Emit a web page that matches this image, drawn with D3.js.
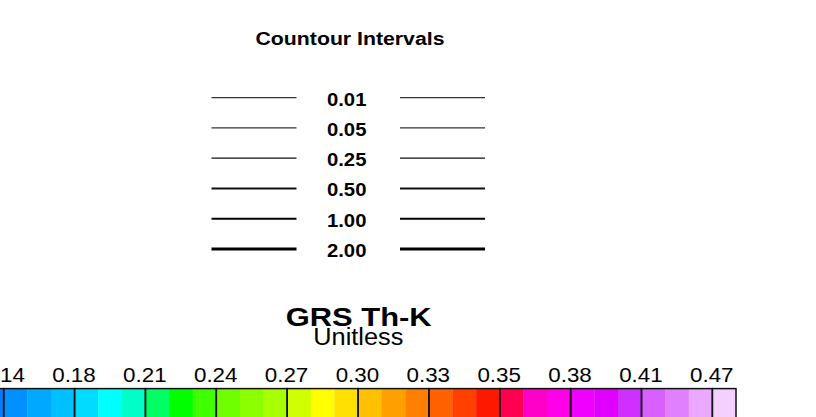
<!DOCTYPE html>
<html>
<head>
<meta charset="utf-8">
<script src="https://cdn.jsdelivr.net/npm/d3@7"></script>
<style>
  html, body { margin: 0; padding: 0; background: #fff; }
  svg { display: block; font-family: "Liberation Sans", Arial, Helvetica, sans-serif; }
</style>
</head>
<body>
<svg id="chart" width="816" height="417"></svg>
<script>
// ---- data ----
const legendTitle = "Countour Intervals";
const contourLevels = ["0.01", "0.05", "0.25", "0.50", "1.00", "2.00"];
const chartTitle = "GRS Th-K";
const chartUnits = "Unitless";
const tickLabels = ["0.14", "0.18", "0.21", "0.24", "0.27", "0.30", "0.33", "0.35", "0.38", "0.41", "0.47"];
const cellColors = [
  "#007cff", // partial cell before 0.14
  "#0090ff", "#00a8ff", "#00c0ff",
  "#00dcff", "#00ffff", "#00ffc8",
  "#00ff64", "#00ff00", "#40ff00",
  "#70ff00", "#8cff00", "#a8ff00",
  "#d0ff00", "#ffff00", "#ffe000",
  "#ffc000", "#ffa000", "#ff8000",
  "#ff6000", "#ff4000", "#ff1800",
  "#ff0050", "#ff00c8", "#ff00e8",
  "#f000ff", "#e000ff", "#d030ff",
  "#d860ff", "#e080ff", "#eaa8ff",
  "#f4d0ff"
];
const cellsPerTick = 3;

// ---- drawing ----
const svg = d3.select("#chart");

// Contour interval legend
svg.append("text")
  .attr("x", 350).attr("y", 44.7)
  .attr("text-anchor", "middle")
  .attr("font-weight", "bold").attr("font-size", 18)
  .attr("textLength", 189).attr("lengthAdjust", "spacingAndGlyphs")
  .text(legendTitle);

const rowY = d3.scalePoint().domain(contourLevels).range([97.7, 249]);
const lineW = d3.scaleOrdinal().domain(contourLevels).range([1.2, 1.2, 1.2, 2, 2, 2.9]);
const lineColor = d3.scaleOrdinal().domain(contourLevels).range(["#333", "#333", "#111", "#111", "#000", "#000"]);

const rows = svg.append("g").selectAll("g").data(contourLevels).join("g");
rows.append("line")
  .attr("x1", 211.5).attr("x2", 296.5)
  .attr("y1", d => rowY(d)).attr("y2", d => rowY(d))
  .attr("stroke", d => lineColor(d)).attr("stroke-width", d => lineW(d));
rows.append("line")
  .attr("x1", 400).attr("x2", 485)
  .attr("y1", d => rowY(d)).attr("y2", d => rowY(d))
  .attr("stroke", d => lineColor(d)).attr("stroke-width", d => lineW(d));
rows.append("text")
  .attr("x", 346.7).attr("y", d => rowY(d) + 8)
  .attr("text-anchor", "middle")
  .attr("font-weight", "bold").attr("font-size", 18)
  .attr("textLength", 39.5).attr("lengthAdjust", "spacingAndGlyphs")
  .text(d => d);

// Title
svg.append("text")
  .attr("x", 358.7).attr("y", 325.7)
  .attr("text-anchor", "middle")
  .attr("font-weight", "bold").attr("font-size", 26)
  .attr("textLength", 146).attr("lengthAdjust", "spacingAndGlyphs")
  .text(chartTitle);
svg.append("text")
  .attr("x", 358.3).attr("y", 345)
  .attr("text-anchor", "middle")
  .attr("font-size", 23)
  .attr("textLength", 90).attr("lengthAdjust", "spacingAndGlyphs")
  .text(chartUnits);

// Colour bar
const nCells = cellColors.length - 1; // cells from first tick onward
const x = d3.scaleLinear().domain([0, nCells]).range([3.7, 736]);
const barTop = 388.6, barBottom = 440;

svg.append("g").selectAll("rect").data(cellColors).join("rect")
  .attr("x", (d, i) => x(i - 1))
  .attr("y", barTop)
  .attr("width", (d, i) => x(i) - x(i - 1) + 0.3)
  .attr("height", barBottom - barTop)
  .attr("fill", d => d);

// section outlines
const sections = d3.range(-cellsPerTick, nCells, cellsPerTick).map(s => [s, Math.min(s + cellsPerTick, nCells)]);
svg.append("g").selectAll("rect").data(sections).join("rect")
  .attr("x", d => x(d[0]))
  .attr("y", barTop)
  .attr("width", d => x(d[1]) - x(d[0]))
  .attr("height", barBottom - barTop)
  .attr("fill", "none")
  .attr("stroke", "#111").attr("stroke-width", 1.5);

// tick labels
svg.append("g").selectAll("text").data(tickLabels).join("text")
  .attr("x", (d, i) => x(i * cellsPerTick) - 0.6)
  .attr("y", 381.7)
  .attr("text-anchor", "middle")
  .attr("font-size", 20)
  .attr("textLength", 43.5).attr("lengthAdjust", "spacingAndGlyphs")
  .text(d => d);
</script>
</body>
</html>
